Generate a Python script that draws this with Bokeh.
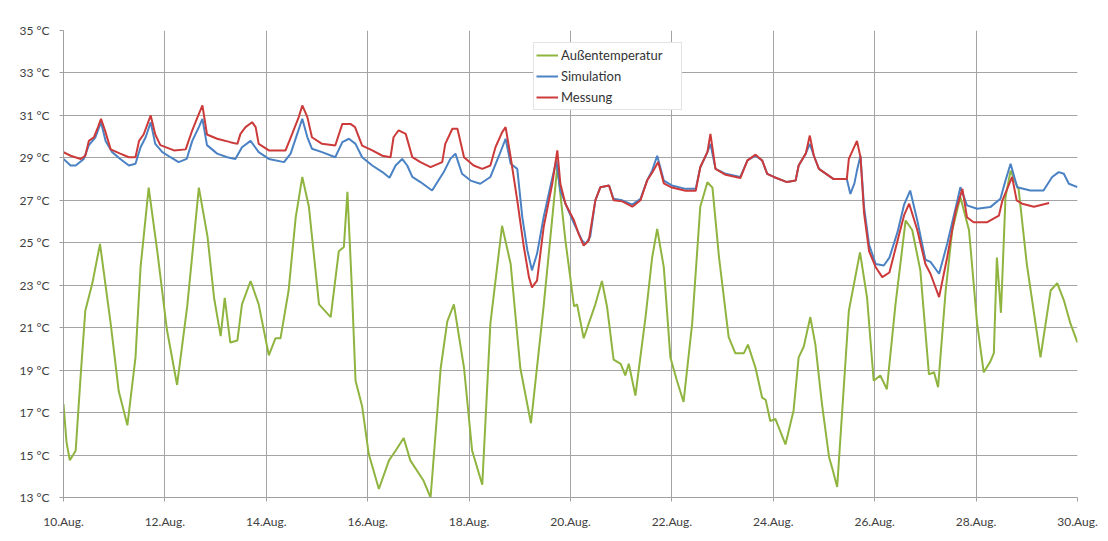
from bokeh.plotting import figure
from bokeh.models import FixedTicker, Range1d, Legend, LegendItem
from bokeh.embed import file_html
from bokeh.resources import INLINE

# x = days after 10.Aug 00:00
x_ticks = [0, 2, 4, 6, 8, 10, 12, 14, 16, 18, 20]
x_labels = ["10.Aug.", "12.Aug.", "14.Aug.", "16.Aug.", "18.Aug.", "20.Aug.",
            "22.Aug.", "24.Aug.", "26.Aug.", "28.Aug.", "30.Aug."]
y_ticks = [13, 15, 17, 19, 21, 23, 25, 27, 29, 31, 33, 35]
y_labels = ["13 °C", "15 °C", "17 °C", "19 °C", "21 °C", "23 °C", "25 °C",
            "27 °C", "29 °C", "31 °C", "33 °C", "35 °C"]

aussen_t = [0.00, 0.06, 0.125, 0.24, 0.34, 0.43, 0.57, 0.72, 0.93, 1.09, 1.26, 1.42, 1.52, 1.68,
            1.85, 2.04, 2.24, 2.44, 2.67, 2.84, 2.97, 3.10, 3.18, 3.29, 3.43, 3.52, 3.69, 3.85,
            4.05, 4.18, 4.28, 4.44, 4.58, 4.71, 4.84, 5.04, 5.27, 5.43, 5.53, 5.60, 5.69, 5.76,
            5.89, 6.02, 6.22, 6.42, 6.55, 6.71, 6.84, 7.10, 7.24, 7.44, 7.57, 7.70, 7.90, 8.06,
            8.26, 8.42, 8.65, 8.82, 9.01, 9.22, 9.47, 9.74, 9.90, 10.07, 10.13, 10.26, 10.49,
            10.62, 10.72, 10.85, 10.99, 11.08, 11.15, 11.28, 11.48, 11.61, 11.71, 11.84, 11.97,
            12.10, 12.23, 12.40, 12.56, 12.70, 12.80, 12.93, 13.12, 13.25, 13.42, 13.50, 13.65,
            13.78, 13.85, 13.94, 14.04, 14.24, 14.40, 14.50, 14.60, 14.73, 14.83, 14.96, 15.10,
            15.16, 15.26, 15.49, 15.71, 15.85, 15.98, 16.11, 16.24, 16.41, 16.61, 16.74, 16.90,
            17.07, 17.17, 17.25, 17.40, 17.53, 17.69, 17.86, 18.02, 18.15, 18.28, 18.35, 18.41,
            18.49, 18.58, 18.68, 18.84, 19.00, 19.27, 19.47, 19.60, 19.73, 19.86, 20.00]
aussen_v = [17.4, 15.6, 14.75, 15.2, 18.8, 21.8, 23.1, 24.95, 21.2, 18.0, 16.4, 19.6, 23.85, 27.6,
            24.6, 20.9, 18.3, 22.0, 27.6, 25.3, 22.4, 20.6, 22.4, 20.3, 20.4, 22.1, 23.2, 22.1,
            19.7, 20.5, 20.5, 22.75, 26.2, 28.1, 26.7, 22.1, 21.5, 24.6, 24.8, 27.4, 22.75, 18.5,
            17.3, 15.06, 13.4, 14.75, 15.2, 15.8, 14.75, 13.8, 13.0, 19.1, 21.3, 22.1, 19.1, 15.2,
            13.6, 21.2, 25.8, 24.0, 19.1, 16.5, 22.0, 28.6, 25.1, 22.0, 22.1, 20.5, 22.1,
            23.2, 22.0, 19.5, 19.3, 18.75, 19.3, 17.8, 21.5, 24.3, 25.65, 23.85, 19.6,
            18.5, 17.5, 21.2, 26.7, 27.85, 27.6, 24.3, 20.55, 19.8, 19.8, 20.2, 19.1,
            17.7, 17.6, 16.6, 16.7, 15.5, 17.1, 19.6, 20.1, 21.5, 20.2, 17.4, 14.9,
            14.4, 13.5, 21.8, 24.55, 22.4, 18.5, 18.75, 18.1, 22.1, 26.05, 25.6, 23.7,
            18.8, 18.9, 18.2, 22.75, 25.6, 27.15, 25.6, 21.2, 18.9, 19.4, 19.8, 24.3,
            21.7, 27.15, 28.4, 27.5, 24.0, 19.6, 22.75, 23.1, 22.3, 21.2, 20.3]

sim_t = [0.00, 0.14, 0.24, 0.40, 0.50, 0.63, 0.74, 0.83, 0.96, 1.12, 1.29, 1.42, 1.52, 1.62, 1.72,
         1.81, 1.95, 2.11, 2.27, 2.43, 2.54, 2.67, 2.74, 2.83, 3.03, 3.23, 3.39, 3.52, 3.69, 3.85,
         4.05, 4.35, 4.48, 4.61, 4.71, 4.81, 4.90, 5.10, 5.36, 5.50, 5.63, 5.76, 5.89, 6.09, 6.29,
         6.43, 6.55, 6.68, 6.78, 6.88, 7.04, 7.27, 7.50, 7.63, 7.73, 7.86, 8.03, 8.22, 8.42, 8.59,
         8.72, 8.82, 8.95, 9.05, 9.15, 9.24, 9.34, 9.47, 9.60, 9.72, 9.80, 9.93, 10.07, 10.23,
         10.30, 10.39, 10.49, 10.59, 10.76, 10.85, 11.02, 11.22, 11.38, 11.51, 11.61, 11.71,
         11.84, 12.00, 12.27, 12.47, 12.56, 12.70, 12.76, 12.86, 13.06, 13.35, 13.49, 13.65,
         13.78, 13.88, 14.01, 14.27, 14.44, 14.50, 14.64, 14.72, 14.80, 14.90, 15.19, 15.45,
         15.52, 15.60, 15.65, 15.72, 15.79, 15.89, 16.02, 16.18, 16.29, 16.45, 16.58, 16.70,
         16.84, 17.00, 17.10, 17.27, 17.43, 17.60, 17.69, 17.82, 18.02, 18.28, 18.48, 18.58,
         18.68, 18.81, 19.07, 19.33, 19.50, 19.63, 19.73, 19.83, 20.00]
sim_v = [28.95, 28.64, 28.64, 28.95, 29.6, 29.97, 30.68, 29.8, 29.27, 28.95, 28.64, 28.72, 29.5, 29.97, 30.68,
         29.66, 29.27, 29.03, 28.8, 28.95, 29.8, 30.45, 30.84, 29.6, 29.2, 29.03, 28.95, 29.5, 29.8, 29.27,
         28.95, 28.8, 29.2, 30.13, 30.84, 29.97, 29.43, 29.27, 29.03, 29.74, 29.9, 29.66, 29.03, 28.64, 28.33,
         28.06, 28.64, 28.95, 28.64, 28.1, 27.86, 27.46, 28.33, 28.95, 29.2, 28.25, 27.93, 27.78, 28.1, 29.1,
         29.9, 28.72, 28.48, 26.2, 24.64, 23.7, 24.48, 26.2, 27.62, 28.88, 27.46, 26.68, 25.9, 25.1,
         24.95, 25.3, 27.0, 27.62, 27.7, 27.07, 27.0, 26.8, 27.07, 27.93, 28.4, 29.1,
         27.93, 27.7, 27.54, 27.54, 28.56, 29.27, 29.66, 28.48, 28.25, 28.1, 28.88, 29.1,
         28.88, 28.25, 28.1, 27.86, 27.93, 28.64, 29.2, 29.66, 29.1, 28.48, 28.0, 28.0,
         27.3, 27.8, 28.4, 29.1, 26.68, 24.9, 24.0, 23.93, 24.3, 25.5, 26.8, 27.46,
         26.05, 24.2, 24.1, 23.54, 24.95, 26.68, 27.62, 26.76, 26.6, 26.68, 27.07, 27.93,
         28.72, 27.62, 27.46, 27.46, 28.1, 28.33, 28.25, 27.78, 27.62]

mess_t = [0.00, 0.14, 0.34, 0.43, 0.50, 0.60, 0.68, 0.74, 0.83, 0.93, 1.12, 1.29, 1.42, 1.49, 1.58,
          1.72, 1.81, 1.91, 2.18, 2.41, 2.54, 2.64, 2.74, 2.83, 3.03, 3.29, 3.43, 3.49, 3.59, 3.72,
          3.79, 3.85, 4.05, 4.38, 4.51, 4.64, 4.71, 4.81, 4.90, 5.10, 5.36, 5.50, 5.66, 5.75, 5.89,
          6.09, 6.29, 6.45, 6.51, 6.61, 6.75, 6.88, 7.04, 7.24, 7.47, 7.53, 7.67, 7.77, 7.90, 8.09,
          8.26, 8.42, 8.52, 8.65, 8.72, 8.82, 8.95, 9.08, 9.18, 9.24, 9.34, 9.47, 9.64, 9.74, 9.80,
          9.90, 10.07, 10.16, 10.26, 10.36, 10.49, 10.59, 10.76, 10.85, 11.02, 11.22, 11.38, 11.51,
          11.61, 11.73, 11.84, 12.00, 12.27, 12.47, 12.56, 12.70, 12.76, 12.86, 13.06, 13.35, 13.49,
          13.65, 13.78, 13.88, 14.01, 14.27, 14.44, 14.50, 14.64, 14.72, 14.80, 14.90, 15.19, 15.45,
          15.49, 15.65, 15.72, 15.79, 15.89, 16.02, 16.15, 16.29, 16.45, 16.58, 16.68, 16.84, 17.00,
          17.10, 17.27, 17.43, 17.60, 17.73, 17.82, 17.95, 18.22, 18.45, 18.52, 18.71, 18.80, 18.91,
          19.14, 19.44]
mess_v = [29.27, 29.1, 28.95, 29.1, 29.8, 29.97, 30.45, 30.84, 30.2, 29.4, 29.2, 29.03, 29.03, 29.8, 30.1,
          31.0, 30.1, 29.6, 29.35, 29.4, 30.3, 30.9, 31.47, 30.1, 29.9, 29.74, 29.66, 30.13, 30.45, 30.68,
          30.45, 29.66, 29.35, 29.35, 30.13, 30.92, 31.47, 30.92, 29.97, 29.66, 29.58, 30.6, 30.6, 30.45, 29.58,
          29.35, 29.1, 29.03, 29.97, 30.3, 30.13, 29.03, 28.8, 28.56, 28.8, 29.66, 30.37, 30.37, 29.03, 28.64,
          28.48, 28.64, 29.5, 30.2, 30.45, 29.03, 27.0, 24.8, 23.38, 22.9, 23.22, 25.73, 27.78, 29.35, 27.78,
          26.84, 26.05, 25.42, 24.87, 25.1, 27.0, 27.62, 27.7, 27.0, 26.95, 26.7, 27.0, 27.93,
          28.3, 28.8, 27.8, 27.6, 27.45, 27.45, 28.56, 29.27, 30.13, 28.48, 28.2, 28.05, 28.88,
          29.15, 28.88, 28.25, 28.1, 27.86, 27.93, 28.64, 29.2, 30.05, 29.1, 28.48, 28.0, 28.0,
          28.95, 29.8, 29.03, 26.4, 24.6, 23.85, 23.38, 23.6, 25.1, 26.3, 26.84, 25.6, 24.0,
          23.54, 22.44, 24.32, 26.52, 27.54, 26.2, 25.97, 25.97, 26.28, 27.0, 28.1, 27.0, 26.84,
          26.7, 26.87]

series_names = ["Außentemperatur", "Simulation", "Messung"]

FONT = "Lato"
GREEN = "#8fb440"
BLUE = "#4a82c4"
RED = "#cc3a3a"

p = figure(width=1100, height=533, output_backend="svg", toolbar_location=None,
           x_range=Range1d(0, 20), y_range=Range1d(13, 35),
           min_border_left=63, min_border_right=23, min_border_top=30, min_border_bottom=36)
p.background_fill_color = "white"
p.border_fill_color = "white"
p.outline_line_color = None

r_a = p.line(aussen_t, aussen_v, line_color=GREEN, line_width=2)
r_s = p.line(sim_t, sim_v, line_color=BLUE, line_width=2)
r_m = p.line(mess_t, mess_v, line_color=RED, line_width=2)

p.xaxis.ticker = FixedTicker(ticks=x_ticks)
p.xaxis.major_label_overrides = {t: l for t, l in zip(x_ticks, x_labels)}
p.yaxis.ticker = FixedTicker(ticks=y_ticks)
p.yaxis.major_label_overrides = {t: l for t, l in zip(y_ticks, y_labels)}
for ax in (p.xaxis, p.yaxis):
    ax.minor_tick_line_color = None
    ax.major_tick_in = 0
    ax.major_tick_out = 4
    ax.major_tick_line_color = "#a0a0a0"
    ax.axis_line_color = "#a0a0a0"
    ax.major_label_text_font = FONT
    ax.major_label_text_font_size = "12px"
    ax.major_label_text_color = "#404040"
p.xaxis.major_label_standoff = 12
p.yaxis.major_label_standoff = 10

p.xgrid.ticker = FixedTicker(ticks=x_ticks)
p.ygrid.ticker = FixedTicker(ticks=y_ticks)
p.grid.grid_line_color = "#a4a4a4"
p.grid.grid_line_width = 1

legend = Legend(items=[LegendItem(label=series_names[0], renderers=[r_a]),
                       LegendItem(label=series_names[1], renderers=[r_s]),
                       LegendItem(label=series_names[2], renderers=[r_m])],
                location=(470, 387))
legend.padding = 2
legend.spacing = 1
legend.label_height = 20
legend.glyph_height = 20
legend.glyph_width = 22
legend.label_standoff = 3
legend.label_width = 118
legend.margin = 0
legend.label_text_font = FONT
legend.label_text_font_size = "13px"
legend.label_text_color = "#333333"
legend.border_line_color = "#c8c8c8"
legend.border_line_width = 1
legend.background_fill_color = "white"
legend.background_fill_alpha = 1
p.add_layout(legend, "center")

open("out.html", "w").write(file_html(p, INLINE))
